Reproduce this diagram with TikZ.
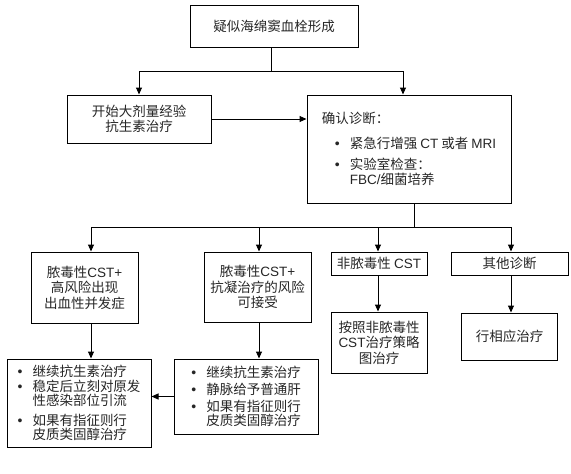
\documentclass[tikz,border=0pt]{standalone}
\usepackage{fontspec}
\setmainfont{Noto Sans CJK SC}
\newfontfamily\lat{Liberation Sans}
\usetikzlibrary{arrows.meta,positioning}
\newcommand{\boxfont}{\fontsize{13.5}{15.5}\selectfont}
\newcommand{\listfont}{\fontsize{13.5}{14}\selectfont}
\newcommand{\bul}{\makebox[15pt][l]{\lat\fontsize{14}{14}\selectfont •}}
\newcommand{\ind}{\hspace*{15pt}}
\tikzset{
    %Define standard arrow tip
    >={Triangle[length=7pt,width=6pt]},
    %Define style for boxes
    block/.style={
           rectangle,
           draw=black, line width=1pt,
           inner sep=2pt,
           font=\boxfont,
           text=black!85,
           align=center},
    listblock/.style={
           block,
           font=\listfont,
           align=left},
    % Define arrow style
    pil/.style={
           ->,
           line width=1pt},
    link/.style={
           line width=1pt}
}

\begin{document}
\begin{tikzpicture}[x=1pt,y=-1pt]
\useasboundingbox (0,0) rectangle (571,474);
\node[block, minimum width=168pt, minimum height=42pt] (susp) at (274,26) {疑似海绵窦血栓形成};
\node[block, minimum width=144pt, minimum height=48pt] (abx) at (139,119) {开始大剂量经验\\抗生素治疗};
\node[block, align=left, minimum width=204pt, minimum height=108pt] (conf) at (409,149) {确认诊断：\\[9.5pt]\hspace*{13pt}\bul 紧急行增强 {\lat CT} 或者 {\lat MRI}\\[5.5pt]\hspace*{13pt}\bul 实验室检查：\\\hspace*{13pt}\ind{\lat FBC/}细菌培养};
% third row
\node[block, minimum width=107pt, minimum height=71pt] (sepbleed) at (84.5,287.5) {脓毒性{\lat CST+}\\高风险出现\\出血性并发症};
\node[block, minimum width=107pt, minimum height=70pt] (sepanti) at (257.5,287) {脓毒性{\lat CST+}\\抗凝治疗的风险\\可接受};
\node[block, minimum width=96pt, minimum height=23pt] (nonsep) at (379,263.5) {非脓毒性 {\lat CST}};
\node[block, minimum width=117pt, minimum height=23pt] (other) at (509.5,263.5) {其他诊断};
% treatments
\node[listblock, minimum width=144pt, minimum height=88pt] (txbleed) at (79,403) {\bul 继续抗生素治疗\\[1pt]\bul 稳定后立刻对原发\\\ind 性感染部位引流\\[6pt]\bul 如果有指征则行\\\ind 皮质类固醇治疗};
\node[listblock, minimum width=144pt, minimum height=75pt] (txanti) at (246,396.5) {\bul 继续抗生素治疗\\[3pt]\bul 静脉给予普通肝\\[3pt]\bul 如果有指征则行\\\ind 皮质类固醇治疗};
\node[block, minimum width=96pt, minimum height=61pt, below=36pt of nonsep] (nonseptx) {按照非脓毒性\\{\lat CST}治疗策略\\图治疗};
\node[block, minimum width=96pt, minimum height=47pt, below=37pt of other] (othertx) {行相应治疗};
\coordinate (split) at (271,71);
\coordinate (fork) at (414,227);
\draw[link] ([xshift=-3pt]susp.south) -- (split);
\draw[pil] (split) -| (abx.north);
\draw[pil] (split) -| ([xshift=-6pt]conf.north);
\draw[pil] (abx.east) -- (abx.east -| conf.west);
\draw[link] ([xshift=5pt]conf.south) -- (fork);
\draw[pil] (fork) -| ([xshift=6.5pt]sepbleed.north);
\draw[pil] (fork) -| ([xshift=1.5pt]sepanti.north);
\draw[pil] (fork) -| ([xshift=-1pt]nonsep.north);
\draw[pil] (fork) -| ([xshift=1.5pt]other.north);
\draw[pil] ([xshift=6.5pt]sepbleed.south) -- ([xshift=6.5pt]sepbleed.south |- txbleed.north);
\draw[pil] ([xshift=1.5pt]sepanti.south) -- ([xshift=1.5pt]sepanti.south |- txanti.north);
\draw[pil] ([xshift=-1pt]nonsep.south) -- ([xshift=-1pt]nonsep.south |- nonseptx.north);
\draw[pil] ([xshift=1.5pt]other.south) -- ([xshift=1.5pt]other.south |- othertx.north);
\draw[pil] (txanti.west) -- (txanti.west -| txbleed.east);
\end{tikzpicture}
\end{document}
